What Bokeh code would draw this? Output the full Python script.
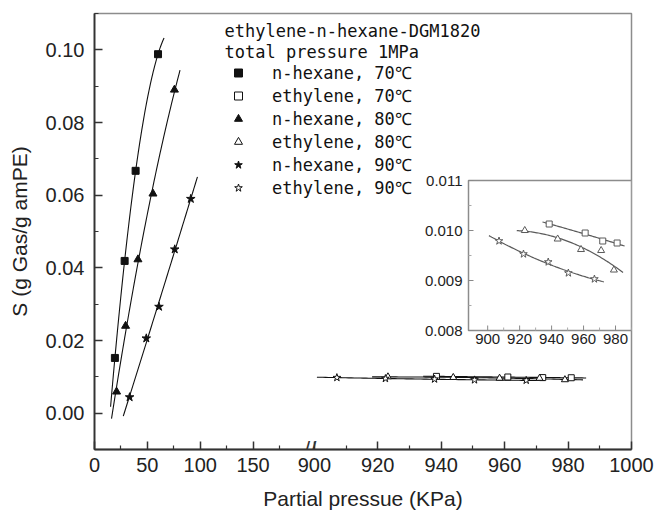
import numpy as np
from bokeh.plotting import figure
from bokeh.models import Range1d, FixedTicker, Legend, LegendItem, Label
from bokeh.core.properties import value
from bokeh.embed import file_html
from bokeh.resources import INLINE

# ---------------- data ----------------
hex70_x = [19.3, 28.5, 38.9, 60.1]
hex70_y = [0.0152, 0.0419, 0.0667, 0.0988]
hex80_x = [20.9, 29.4, 41.1, 55.3, 75.6]
hex80_y = [0.0059, 0.0240, 0.0423, 0.0604, 0.0890]
hex90_x = [33.2, 49.0, 61.0, 75.9, 91.1]
hex90_y = [0.0044, 0.0206, 0.0293, 0.0451, 0.0590]

eth70_x = [938.5, 961.0, 972.0, 981.0]
eth70_y = [0.01013, 0.00995, 0.00979, 0.00975]
eth80_x = [923.2, 943.8, 958.4, 971.0, 979.0]
eth80_y = [0.01000, 0.00983, 0.00962, 0.00960, 0.00921]
eth90_x = [907.1, 922.4, 937.9, 950.5, 966.8]
eth90_y = [0.00979, 0.00953, 0.00937, 0.00915, 0.00903]

# extent of the drawn fit curves (x start / x end)
hex_fit_start = [15.2, 16.1, 27.2]
hex_fit_end = [65.8, 80.9, 97.4]
eth_fit_start = [934.3, 918.2, 900.8]
eth_fit_end = [985.7, 984.7, 972.7]

series_labels = ["n-hexane, 70℃", "ethylene, 70℃", "n-hexane, 80℃",
                 "ethylene, 80℃", "n-hexane, 90℃", "ethylene, 90℃"]
header_lines = ["ethylene-n-hexane-DGM1820", "total pressure 1MPa"]

y_ticks = [0.00, 0.02, 0.04, 0.06, 0.08, 0.10]
y_minor = [-0.01, 0.01, 0.03, 0.05, 0.07, 0.09, 0.11]
x_ticks_left = [0, 50, 100, 150]
x_minor_left = [25, 75, 125, 175]
x_ticks_right = [900, 920, 940, 960, 980, 1000]
x_minor_right = [910, 930, 950, 970, 990]

inset_x_lim = [888, 990]
inset_y_lim = [0.008, 0.011]
inset_x_ticks = [900, 920, 940, 960, 980]
inset_x_minor = [910, 930, 950, 970, 990]
inset_y_ticks = [0.008, 0.009, 0.010, 0.011]
inset_y_minor = [0.0085, 0.0095, 0.0105]

# ---------------- broken x axis ----------------
LEFT_MAX, RIGHT_MIN, RIGHT_MAX, GAP, RIGHT_SCALE = 200, 900, 1000, 8, 3


def brk(x):
    x = np.asarray(x, dtype=float)
    return np.where(x <= LEFT_MAX, x, LEFT_MAX + GAP + (x - RIGHT_MIN) * RIGHT_SCALE)


def fit(xs, ys, x0, x1, deg=2):
    c = np.polyfit(xs, ys, deg)
    xx = np.linspace(x0, x1, 80)
    return xx, np.polyval(c, xx)


# ---------------- geometry ----------------
W, H = 654, 515
BL, BR, BT, BB = 94, 23, 13, 66
FW, FH = W - BL - BR, H - BT - BB
IN_L, IN_R, IN_T, IN_B = 374, FW, 167, 317   # inset box in frame pixels

dxp = (inset_x_lim[1] - inset_x_lim[0]) / (IN_R - IN_L)
dyp = (inset_y_lim[1] - inset_y_lim[0]) / (IN_B - IN_T)
ix_start = inset_x_lim[0] - IN_L * dxp
ix_end = inset_x_lim[1] + (FW - IN_R) * dxp
iy_end = inset_y_lim[1] + IN_T * dyp
iy_start = inset_y_lim[0] - (FH - IN_B) * dyp

p = figure(width=W, height=H, output_backend="svg", toolbar_location=None,
           x_range=Range1d(0, float(brk(RIGHT_MAX))), y_range=Range1d(-0.01, 0.11),
           min_border_left=BL, min_border_right=BR, min_border_top=BT, min_border_bottom=BB)
p.extra_x_ranges = {"ix": Range1d(ix_start, ix_end)}
p.extra_y_ranges = {"iy": Range1d(iy_start, iy_end)}
p.xgrid.grid_line_color = None
p.ygrid.grid_line_color = None
p.outline_line_color = "#8c8c8c"
p.outline_line_width = 1.5
p.background_fill_color = "white"

AX = "#333333"
TICK_FONT = "Liberation Sans"
for ax in (p.xaxis[0], p.yaxis[0]):
    ax.axis_line_color = AX
    ax.axis_line_width = 1.8
    ax.major_tick_line_color = AX
    ax.minor_tick_line_color = AX
    ax.major_tick_line_width = 1.5
    ax.minor_tick_line_width = 1.2
    ax.major_tick_in = 8
    ax.major_tick_out = 0
    ax.minor_tick_in = 4
    ax.minor_tick_out = 0
    ax.major_label_text_font = TICK_FONT
    ax.major_label_text_font_size = "20px"
    ax.major_label_text_color = "#222"
    ax.axis_label_text_font = TICK_FONT
    ax.axis_label_text_font_size = "21px"
    ax.axis_label_text_font_style = "normal"
    ax.axis_label_text_color = "#222"

xt = [int(v) for v in brk(x_ticks_left + x_ticks_right)]
xm = [int(v) for v in brk(x_minor_left + x_minor_right)]
p.xaxis[0].ticker = FixedTicker(ticks=xt, minor_ticks=xm)
p.xaxis[0].major_label_overrides = {int(b): str(t) for b, t in
                                    zip(brk(x_ticks_left + x_ticks_right), x_ticks_left + x_ticks_right)}
p.xaxis[0].major_label_standoff = 8
p.xaxis[0].axis_label = "Partial pressue (KPa)"
p.xaxis[0].axis_label_standoff = 12

p.yaxis[0].ticker = FixedTicker(ticks=y_ticks, minor_ticks=y_minor)
p.yaxis[0].major_label_overrides = {t: f"{t:.2f}" for t in y_ticks}
p.yaxis[0].major_label_standoff = 10
p.yaxis[0].axis_label = "S (g Gas/g amPE)"
p.yaxis[0].axis_label_standoff = 12

INK = "#111111"
# ---- fit curves, main plot ----
for xs, ys, a, b in zip([hex70_x, hex80_x, hex90_x], [hex70_y, hex80_y, hex90_y],
                        hex_fit_start, hex_fit_end):
    xx, yy = fit(xs, ys, a, b)
    p.line(xx, yy, line_color=INK, line_width=1.1)
for xs, ys, a, b in zip([eth70_x, eth80_x, eth90_x], [eth70_y, eth80_y, eth90_y],
                        eth_fit_start, eth_fit_end):
    xx, yy = fit(xs, ys, a, b)
    p.line(brk(xx), yy, line_color=INK, line_width=1.1)

# ---- markers, main plot ----
r1 = p.scatter(hex70_x, hex70_y, marker="square", size=7, fill_color=INK, line_color=INK)
r2 = p.scatter(brk(eth70_x), eth70_y, marker="square", size=6, fill_color="white", line_color=INK)
r3 = p.scatter(hex80_x, hex80_y, marker="triangle", size=8, fill_color=INK, line_color=INK)
r4 = p.scatter(brk(eth80_x), eth80_y, marker="triangle", size=7, fill_color="white", line_color=INK)
r5 = p.scatter(hex90_x, hex90_y, marker="star", size=9, fill_color=INK, line_color=INK)
r6 = p.scatter(brk(eth90_x), eth90_y, marker="star", size=8, fill_color="white", line_color=INK)

# ---- inset ----
IGRAY = "#5a5a5a"
p.quad(left=[inset_x_lim[0]], right=[inset_x_lim[1]], bottom=[inset_y_lim[0]], top=[inset_y_lim[1]],
       fill_color="white", line_color="#8c8c8c", line_width=1.5, x_range_name="ix", y_range_name="iy")
tick_y_len = 5 * dyp
tick_x_len = 5 * dxp
p.segment(x0=inset_x_ticks, x1=inset_x_ticks, y0=[inset_y_lim[0]] * len(inset_x_ticks),
          y1=[inset_y_lim[0] + tick_y_len] * len(inset_x_ticks), line_color="#888", line_width=1,
          x_range_name="ix", y_range_name="iy")
p.segment(x0=inset_x_minor, x1=inset_x_minor, y0=[inset_y_lim[0]] * len(inset_x_minor),
          y1=[inset_y_lim[0] + tick_y_len * 0.6] * len(inset_x_minor), line_color="#aaa", line_width=1,
          x_range_name="ix", y_range_name="iy")
p.segment(x0=[inset_x_lim[0]] * len(inset_y_ticks), x1=[inset_x_lim[0] + tick_x_len] * len(inset_y_ticks),
          y0=inset_y_ticks, y1=inset_y_ticks, line_color="#888", line_width=1,
          x_range_name="ix", y_range_name="iy")
p.segment(x0=[inset_x_lim[0]] * len(inset_y_minor), x1=[inset_x_lim[0] + tick_x_len * 0.6] * len(inset_y_minor),
          y0=inset_y_minor, y1=inset_y_minor, line_color="#aaa", line_width=1,
          x_range_name="ix", y_range_name="iy")
p.text(x=inset_x_ticks, y=[inset_y_lim[0]] * len(inset_x_ticks), text=[str(t) for t in inset_x_ticks],
       text_align="center", text_baseline="top", y_offset=3, text_font=value(TICK_FONT),
       text_font_size="15px", text_color="#222", x_range_name="ix", y_range_name="iy")
p.text(x=[inset_x_lim[0]] * len(inset_y_ticks), y=inset_y_ticks, text=[f"{t:.3f}" for t in inset_y_ticks],
       text_align="right", text_baseline="middle", x_offset=-6, text_font=value(TICK_FONT),
       text_font_size="15px", text_color="#222", x_range_name="ix", y_range_name="iy")

for xs, ys, a, b in zip([eth70_x, eth80_x, eth90_x], [eth70_y, eth80_y, eth90_y],
                        eth_fit_start, eth_fit_end):
    xx, yy = fit(xs, ys, a, b)
    p.line(xx, yy, line_color=IGRAY, line_width=1.2, x_range_name="ix", y_range_name="iy")
p.scatter(eth70_x, eth70_y, marker="square", size=6, fill_color="white", line_color=IGRAY,
          x_range_name="ix", y_range_name="iy")
p.scatter(eth80_x, eth80_y, marker="triangle", size=7, fill_color="white", line_color=IGRAY,
          x_range_name="ix", y_range_name="iy")
p.scatter(eth90_x, eth90_y, marker="star", size=8, fill_color="white", line_color=IGRAY,
          x_range_name="ix", y_range_name="iy")

# ---- axis break mark ----
p.add_layout(Label(x=LEFT_MAX + GAP / 2, y=-0.01, text="//", text_align="center",
                   text_baseline="middle", text_font=TICK_FONT, text_font_size="22px",
                   text_color=AX))

# ---- legend ----
LEG_FONT = "DejaVu Sans Mono"
for i, line in enumerate(header_lines):
    p.add_layout(Label(x=130, y=FH - 17 - 21 * i, x_units="screen", y_units="screen", text=line,
                       text_baseline="middle", text_font=LEG_FONT, text_font_size="17px",
                       text_color="#111"))

items = [LegendItem(label=l, renderers=[r]) for l, r in zip(series_labels, [r1, r2, r3, r4, r5, r6])]
legend = Legend(items=items, location=(134, FH - 185.5), border_line_color=None,
                background_fill_alpha=0, padding=0, margin=0, spacing=0, glyph_height=23,
                glyph_width=20, label_height=23, label_standoff=24, label_text_font=LEG_FONT,
                label_text_font_size="17px", label_text_color="#111")
p.add_layout(legend)

open("out.html", "w").write(file_html(p, INLINE))
